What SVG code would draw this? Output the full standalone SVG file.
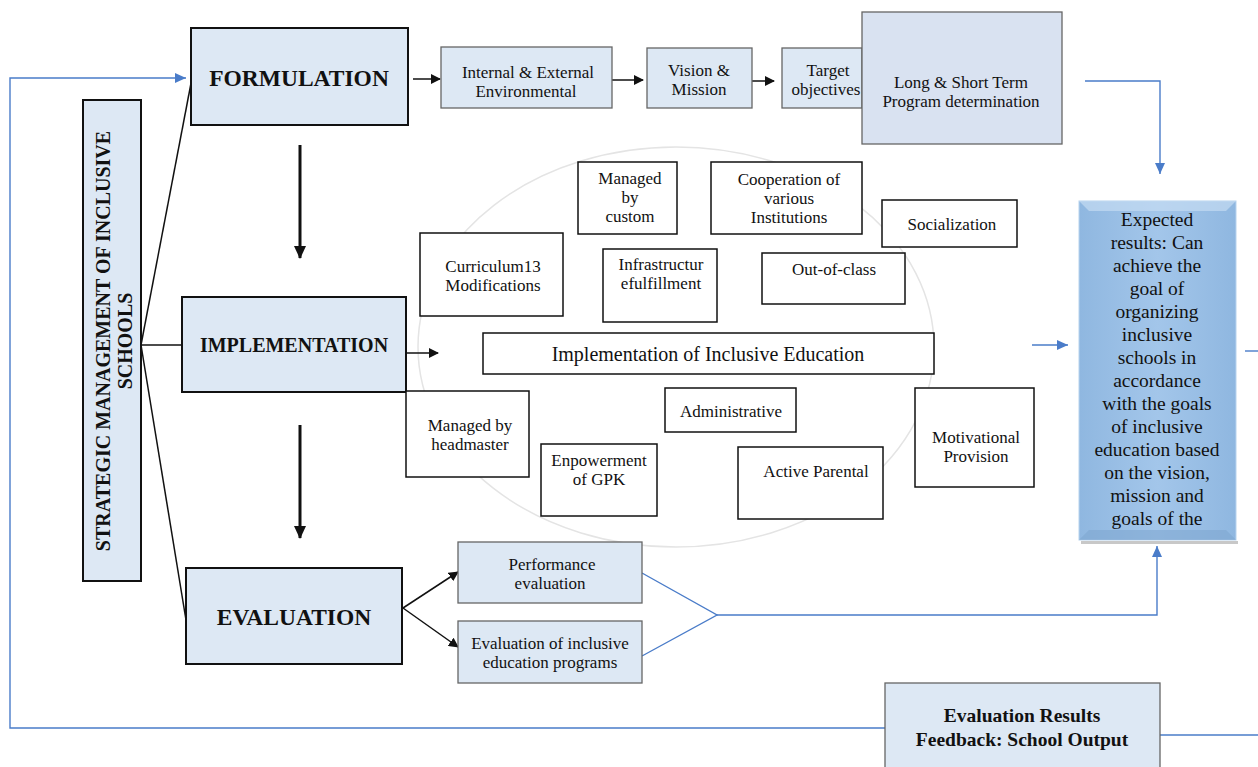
<svg xmlns="http://www.w3.org/2000/svg" width="1258" height="767" viewBox="0 0 1258 767" font-family="'Liberation Serif', 'DejaVu Serif', serif">
<defs>
<style>
text{font-family:'Liberation Serif','DejaVu Serif',serif;fill:#111;text-anchor:middle}
.main{fill:#dde8f4;stroke:#111;stroke-width:2}
.sub{fill:#dde8f4;stroke:#666;stroke-width:1.3}
.inner{fill:#fff;stroke:#111;stroke-width:1.5}
.big{font-size:23.5px;font-weight:bold}
.s{font-size:17px}
.blk{stroke:#111;stroke-width:1.5;fill:none}
.blue{stroke:#4a7cc9;stroke-width:1.4;fill:none}
</style>
<marker id="ab" markerWidth="10" markerHeight="10" refX="9" refY="5" orient="auto" markerUnits="userSpaceOnUse"><path d="M0,0 L10,5 L0,10 z" fill="#111"/></marker>
<marker id="abig" markerWidth="14" markerHeight="14" refX="12" refY="7" orient="auto" markerUnits="userSpaceOnUse"><path d="M0,1 L13,7 L0,13 z" fill="#111"/></marker>
<marker id="ablue" markerWidth="12" markerHeight="12" refX="11" refY="6" orient="auto" markerUnits="userSpaceOnUse"><path d="M0,1 L11,6 L0,11 z" fill="#4a7cc9"/></marker>
<linearGradient id="gexp" x1="0" y1="0" x2="1" y2="0"><stop offset="0" stop-color="#8fb7e0"/><stop offset="0.5" stop-color="#a3c6ea"/><stop offset="1" stop-color="#8fb7e0"/></linearGradient>
</defs>
<rect width="1258" height="767" fill="#fff"/>
<ellipse cx="676" cy="347" rx="258" ry="200" fill="none" stroke="#e4e4e4" stroke-width="1.5"/>
<g id="connectors">
<line class="blk" x1="141" y1="345" x2="192" y2="78"/>
<line class="blk" x1="141" y1="345" x2="182" y2="345"/>
<line class="blk" x1="141" y1="345" x2="186" y2="620"/>
<line class="blk" x1="413" y1="79" x2="440" y2="79" marker-end="url(#ab)"/>
<line class="blk" x1="612" y1="80" x2="643" y2="80" marker-end="url(#ab)"/>
<line class="blk" x1="752" y1="81" x2="774" y2="81" marker-end="url(#ab)"/>
<line stroke="#111" stroke-width="3" x1="300" y1="145" x2="300" y2="258" marker-end="url(#abig)"/>
<line stroke="#111" stroke-width="3" x1="300" y1="425" x2="300" y2="538" marker-end="url(#abig)"/>
<line class="blk" x1="406" y1="353" x2="438" y2="353" marker-end="url(#ab)"/>
<line class="blk" x1="403" y1="608" x2="458" y2="572" marker-end="url(#ab)"/>
<line class="blk" x1="403" y1="608" x2="458" y2="647" marker-end="url(#ab)"/>
<polyline class="blue" points="1085,81 1160,81 1160,174" marker-end="url(#ablue)"/>
<line class="blue" x1="1032" y1="345" x2="1068" y2="345" marker-end="url(#ablue)"/>
<line class="blue" x1="1245" y1="351" x2="1258" y2="351"/>
<polyline class="blue" points="642,573 717,615 642,656"/>
<polyline class="blue" points="717,615 1157,615 1157,546" marker-end="url(#ablue)"/>
<polyline class="blue" points="885,728 10,728 10,78 186,78" marker-end="url(#ablue)"/>
<line class="blue" x1="1160" y1="735" x2="1258" y2="735"/>
</g>
<g id="strategic">
<rect class="main" x="83" y="100" width="58" height="481"/>
<text transform="translate(112,341) rotate(-90)" font-size="20" font-weight="bold"><tspan x="0" y="-2">STRATEGIC MANAGEMENT OF INCLUSIVE</tspan><tspan x="0" y="20">SCHOOLS</tspan></text>
</g>
<g id="formulation"><rect class="main" x="191" y="28" width="217" height="97"/><text class="big" x="299" y="86">FORMULATION</text></g>
<g id="implementation"><rect class="main" x="182" y="297" width="224" height="95"/><text x="294" y="352" font-size="20" font-weight="bold">IMPLEMENTATION</text></g>
<g id="evaluation"><rect class="main" x="186" y="568" width="216" height="96"/><text class="big" x="294" y="625">EVALUATION</text></g>
<g id="internal"><rect class="sub" x="441" y="47" width="171" height="61"/><text class="s" x="528" y="78">Internal &amp;  External</text><text class="s" x="526" y="97">Environmental</text></g>
<g id="vision"><rect class="sub" x="647" y="48" width="105" height="60"/><text class="s" x="699" y="76">Vision &amp;</text><text class="s" x="699" y="95">Mission</text></g>
<g id="target"><rect class="sub" x="782" y="48" width="80" height="60"/><text class="s" x="828" y="76">Target</text><text class="s" x="826" y="95">objectives</text></g>
<g id="longshort"><rect fill="#d9e2f1" stroke="#666" stroke-width="1.3" x="862" y="12" width="200" height="132"/><text class="s" x="961" y="88">Long &amp; Short Term</text><text class="s" x="961" y="107">Program determination</text></g>
<g id="expected">
<rect x="1079" y="201" width="157" height="339" fill="url(#gexp)" stroke="#b8d3ee" stroke-width="1"/>
<polygon points="1079,201 1236,201 1226,211 1089,211" fill="#c4dbf2" opacity="0.7"/>
<polygon points="1079,540 1236,540 1226,530 1089,530" fill="#7fa6d0" opacity="0.6"/>
<rect x="1081" y="541" width="157" height="3" fill="#c8c8c8"/>
<g font-size="19.5"><text x="1157" y="226">Expected</text><text x="1157" y="249">results: Can</text><text x="1157" y="272">achieve the</text><text x="1157" y="295">goal of</text><text x="1157" y="318">organizing</text><text x="1157" y="341">inclusive</text><text x="1157" y="364">schools in</text><text x="1157" y="387">accordance</text><text x="1157" y="410">with the goals</text><text x="1157" y="433">of inclusive</text><text x="1157" y="456">education based</text><text x="1157" y="479">on the vision,</text><text x="1157" y="502">mission and</text><text x="1157" y="525">goals of the</text></g>
</g>
<g id="custom"><rect class="inner" x="578" y="162" width="99" height="72"/><text class="s" x="630" y="184">Managed</text><text class="s" x="630" y="203">by</text><text class="s" x="630" y="222">custom</text></g>
<g id="cooperation"><rect class="inner" x="711" y="162" width="151" height="72"/><text class="s" x="789" y="185">Cooperation of</text><text class="s" x="789" y="204">various</text><text class="s" x="789" y="223">Institutions</text></g>
<g id="socialization"><rect class="inner" x="882" y="200" width="135" height="47"/><text class="s" x="952" y="230">Socialization</text></g>
<g id="curriculum"><rect class="inner" x="420" y="233" width="143" height="83"/><text class="s" x="493" y="272">Curriculum13</text><text class="s" x="493" y="291">Modifications</text></g>
<g id="infra"><rect class="inner" x="603" y="249" width="114" height="73"/><text class="s" x="661" y="270">Infrastructur</text><text class="s" x="661" y="289">efulfillment</text></g>
<g id="outclass"><rect class="inner" x="762" y="253" width="143" height="51"/><text class="s" x="834" y="275">Out-of-class</text></g>
<g id="impl-edu"><rect class="inner" x="483" y="333" width="451" height="41"/><text x="708" y="361" font-size="20">Implementation of Inclusive Education</text></g>
<g id="headmaster"><rect class="inner" x="406" y="391" width="123" height="86"/><text class="s" x="470" y="431">Managed by</text><text class="s" x="470" y="450">headmaster</text></g>
<g id="administrative"><rect class="inner" x="665" y="388" width="131" height="44"/><text class="s" x="731" y="417">Administrative</text></g>
<g id="gpk"><rect class="inner" x="541" y="444" width="116" height="72"/><text class="s" x="599" y="466">Enpowerment</text><text class="s" x="599" y="485">of GPK</text></g>
<g id="parental"><rect class="inner" x="738" y="447" width="145" height="72"/><text class="s" x="816" y="477">Active Parental</text></g>
<g id="motivational"><rect class="inner" x="915" y="388" width="119" height="99"/><text class="s" x="976" y="443">Motivational</text><text class="s" x="976" y="462">Provision</text></g>
<g id="perf"><rect class="sub" x="458" y="542" width="184" height="61"/><text class="s" x="552" y="570">Performance</text><text class="s" x="550" y="589">evaluation</text></g>
<g id="evalprog"><rect class="sub" x="458" y="621" width="184" height="62"/><text class="s" x="550" y="649">Evaluation of inclusive</text><text class="s" x="550" y="668">education programs</text></g>
<g id="feedback"><rect class="sub" x="885" y="683" width="275" height="90"/><text x="1022" y="722" font-size="19.5" font-weight="bold">Evaluation Results</text><text x="1022" y="746" font-size="19.5" font-weight="bold">Feedback: School Output</text></g>
</svg>
